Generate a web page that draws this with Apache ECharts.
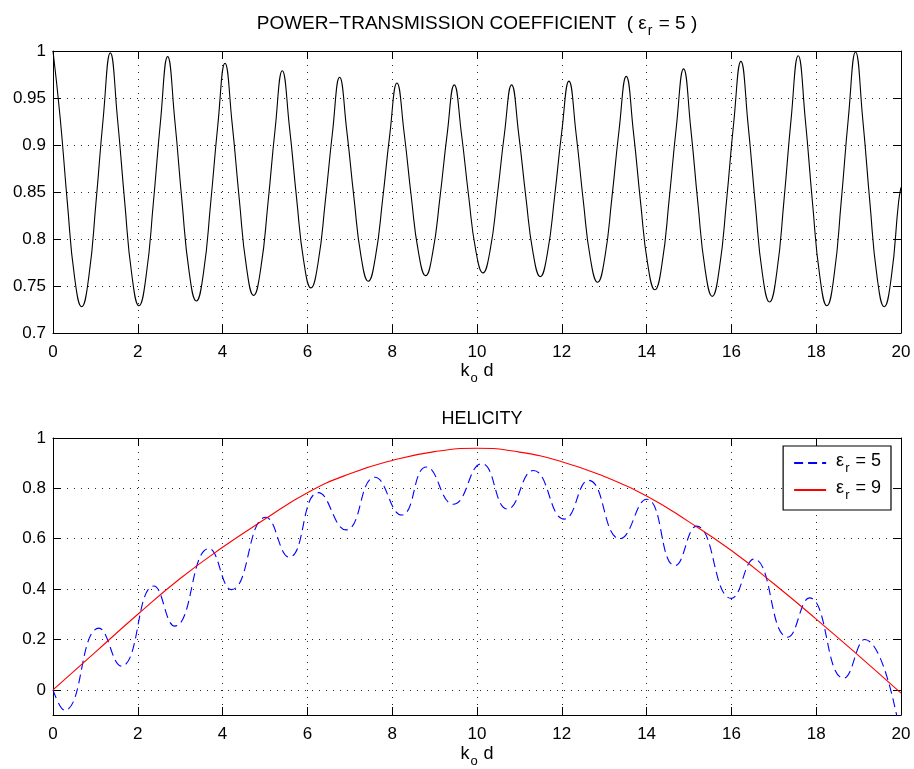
<!DOCTYPE html>
<html>
<head>
<meta charset="utf-8">
<script src="https://cdn.jsdelivr.net/npm/echarts@6/dist/echarts.min.js"></script>
<style>
html,body{margin:0;padding:0;background:#fff;}
#chart{width:914px;height:769px;}
</style>
</head>
<body>
<div id="chart"></div>
<script>
// ---- Top plot: power-transmission coefficient (eps_r = 5) ----
const transX = [
  0, 0.169, 0.338, 0.507, 0.676, 0.845, 1.014, 1.183,
  1.352, 1.521, 1.690, 1.859, 2.028, 2.197, 2.366, 2.535,
  2.704, 2.873, 3.042, 3.211, 3.380, 3.549, 3.718, 3.887,
  4.056, 4.225, 4.394, 4.563, 4.732, 4.901, 5.070, 5.239,
  5.408, 5.577, 5.746, 5.915, 6.084, 6.253, 6.422, 6.591,
  6.760, 6.929, 7.098, 7.267, 7.436, 7.605, 7.774, 7.943,
  8.112, 8.281, 8.450, 8.619, 8.788, 8.957, 9.126, 9.295,
  9.464, 9.633, 9.802, 9.971, 10.140, 10.309, 10.478, 10.647,
  10.816, 10.985, 11.154, 11.323, 11.492, 11.661, 11.830, 11.999,
  12.168, 12.337, 12.506, 12.675, 12.844, 13.013, 13.182, 13.351,
  13.520, 13.689, 13.858, 14.027, 14.196, 14.365, 14.534, 14.703,
  14.872, 15.041, 15.210, 15.379, 15.548, 15.717, 15.886, 16.055,
  16.224, 16.393, 16.562, 16.731, 16.900, 17.069, 17.238, 17.407,
  17.576, 17.745, 17.914, 18.083, 18.252, 18.421, 18.590, 18.759,
  18.928, 19.097, 19.266, 19.435, 19.604, 19.773, 19.942, 20
];
const transY = [
  1.000, 0.929, 0.839, 0.760, 0.728, 0.760, 0.839, 0.928,
  0.998, 0.928, 0.840, 0.762, 0.729, 0.761, 0.838, 0.925,
  0.994, 0.926, 0.840, 0.765, 0.734, 0.764, 0.838, 0.921,
  0.987, 0.923, 0.842, 0.770, 0.740, 0.769, 0.838, 0.917,
  0.979, 0.919, 0.843, 0.776, 0.748, 0.775, 0.840, 0.913,
  0.972, 0.915, 0.844, 0.781, 0.755, 0.781, 0.842, 0.911,
  0.966, 0.913, 0.845, 0.786, 0.761, 0.786, 0.844, 0.911,
  0.964, 0.912, 0.846, 0.788, 0.764, 0.788, 0.846, 0.912,
  0.964, 0.911, 0.844, 0.785, 0.760, 0.785, 0.845, 0.914,
  0.968, 0.912, 0.841, 0.779, 0.754, 0.780, 0.844, 0.916,
  0.973, 0.914, 0.839, 0.773, 0.746, 0.774, 0.843, 0.920,
  0.981, 0.918, 0.838, 0.768, 0.739, 0.769, 0.841, 0.924,
  0.989, 0.922, 0.838, 0.763, 0.733, 0.764, 0.840, 0.927,
  0.995, 0.926, 0.838, 0.761, 0.729, 0.761, 0.840, 0.929,
  0.999, 0.928, 0.839, 0.760, 0.728, 0.760, 0.839, 0.855
];

// ---- Bottom plot: helicity ----
const heliX5 = [0, 0.275, 1.085, 1.61, 2.38, 2.87, 3.68, 4.21, 5.02, 5.57, 6.26, 6.91, 7.59, 8.22, 8.81, 9.44,
  10.11, 10.72, 11.33, 12.06, 12.63, 13.37, 14.0, 14.67, 15.18, 16.0, 16.53, 17.33, 17.84, 18.65, 19.14, 20];
const heliY5 = [0, -0.081, 0.245, 0.094, 0.412, 0.253, 0.561, 0.398, 0.685, 0.527, 0.783, 0.635, 0.844, 0.694, 0.885, 0.737,
  0.898, 0.718, 0.871, 0.678, 0.832, 0.600, 0.757, 0.493, 0.650, 0.363, 0.519, 0.209, 0.365, 0.046, 0.200, -0.19];
const heliX9 = [0, 1, 2, 3, 4, 5, 6, 7, 8, 9, 10, 11, 12, 13, 14, 15, 16, 17, 18, 19, 20];
const heliY9 = [0, 0.15, 0.30, 0.442, 0.566, 0.678, 0.783, 0.858, 0.911, 0.946, 0.959, 0.944, 0.906, 0.847, 0.77, 0.667, 0.553, 0.421, 0.281, 0.136, -0.013];

const xTicks = [0, 2, 4, 6, 8, 10, 12, 14, 16, 18, 20];
const yTicksTop = [0.7, 0.75, 0.8, 0.85, 0.9, 0.95, 1];
const yTicksBottom = [0, 0.2, 0.4, 0.6, 0.8, 1];

const topTitle = ['POWER\u2212TRANSMISSION COEFFICIENT  ( \u03b5', 'r', ' = 5 )'];
const bottomTitle = 'HELICITY';
const xName = ['k', 'o', ' d'];
const legendNames = { er5: ['\u03b5', 'r', ' = 5'], er9: ['\u03b5', 'r', ' = 9'] };

// ---- build ----
const FONT = '"Liberation Sans", Arial, Helvetica, sans-serif';
const zip = (xs, ys) => xs.map((x, i) => [x, ys[i]]);
const rich = (n, s) => ({
  g: { width: 5, lineHeight: n + 4 },
  n: { fontSize: n, fontFamily: FONT, fontWeight: 'normal', color: '#000', lineHeight: n + 4, verticalAlign: 'top' },
  s: { fontSize: s, fontFamily: FONT, fontWeight: 'normal', color: '#000', lineHeight: s, padding: [Math.round(n * 0.55), 1, 0, 1], verticalAlign: 'top' }
});
const sub = (arr) => '{n|' + arr[0] + '}{s|' + arr[1] + '}{n|' + arr[2] + '}';

const gridLine = { show: true, lineStyle: { color: '#000', width: 1, type: [1, 6], opacity: 0.85 } };
const axLine = { show: true, onZero: false, lineStyle: { color: '#000', width: 1 } };
const tick = { show: true, inside: true, length: 8, lineStyle: { color: '#000', width: 1 } };
const label = { color: '#000', fontSize: 17, fontFamily: FONT, margin: 11 };

function xAxes(gi) {
  return [
    {
      type: 'value', gridIndex: gi, min: 0, max: 20, interval: 2, position: 'bottom',
      axisLine: axLine, axisTick: tick, splitLine: gridLine,
      axisLabel: Object.assign({}, label, { customValues: xTicks }),
      name: sub(xName), nameLocation: 'middle', nameGap: gi === 0 ? 29 : 30,
      nameTextStyle: { rich: rich(18, 13) }
    },
    {
      type: 'value', gridIndex: gi, min: 0, max: 20, interval: 2, position: 'top',
      axisLine: axLine, axisTick: tick, splitLine: { show: false }, axisLabel: { show: false }
    }
  ];
}

const option = {
  animation: false,
  backgroundColor: '#fff',
  title: [
    {
      text: sub(topTitle), left: 472, top: 9, textAlign: 'center',
      textStyle: { fontWeight: 'normal', rich: rich(19, 14) }
    },
    {
      text: bottomTitle, left: 477, top: 405, textAlign: 'center',
      textStyle: { fontSize: 18, fontWeight: 'normal', fontFamily: FONT, color: '#000' }
    }
  ],
  grid: [
    { left: 53, right: 13, top: 51, height: 282 },
    { left: 53, right: 13, top: 438, height: 281 }
  ],
  xAxis: [...xAxes(0), ...xAxes(1)],
  yAxis: [
    {
      type: 'value', gridIndex: 0, min: 0.7, max: 1, interval: 0.05, position: 'left',
      axisLine: axLine, axisTick: tick, splitLine: gridLine,
      axisLabel: Object.assign({}, label, { margin: 7, customValues: yTicksTop })
    },
    {
      type: 'value', gridIndex: 0, min: 0.7, max: 1, interval: 0.05, position: 'right',
      axisLine: axLine, axisTick: tick, splitLine: { show: false }, axisLabel: { show: false }
    },
    {
      type: 'value', gridIndex: 1, min: -0.1, max: 1, position: 'left',
      axisLine: axLine,
      axisTick: Object.assign({}, tick, { customValues: yTicksBottom }),
      splitLine: gridLine,
      axisLabel: Object.assign({}, label, { margin: 7, customValues: yTicksBottom })
    },
    {
      type: 'value', gridIndex: 1, min: -0.1, max: 1, position: 'right',
      axisLine: axLine,
      axisTick: Object.assign({}, tick, { customValues: yTicksBottom }),
      splitLine: { show: false }, axisLabel: { show: false, customValues: yTicksBottom }
    }
  ],
  legend: {
    data: ['er5', 'er9'],
    orient: 'vertical',
    right: 23, top: 446,
    itemWidth: 32, itemHeight: 12, itemGap: 4,
    padding: [6, 10, 8, 10],
    backgroundColor: '#fff',
    borderColor: '#000', borderWidth: 1.2, borderRadius: 0,
    itemStyle: { opacity: 0 },
    formatter: (name) => '{g|}' + sub(legendNames[name]),
    textStyle: { rich: rich(18, 13) }
  },
  series: [
    {
      type: 'line', name: 'trans', xAxisIndex: 0, yAxisIndex: 0,
      data: zip(transX, transY), smooth: 0.5, showSymbol: false, symbol: 'none',
      lineStyle: { color: '#000', width: 1.1 }, clip: true
    },
    {
      type: 'line', name: 'er5', xAxisIndex: 2, yAxisIndex: 2,
      data: zip(heliX5, heliY5), smooth: 0.5, showSymbol: false, symbol: 'none',
      itemStyle: { color: '#0000ff' },
      lineStyle: { color: '#0000ff', width: 1.1, type: [9, 5] }, clip: true
    },
    {
      type: 'line', name: 'er9', xAxisIndex: 2, yAxisIndex: 2,
      data: zip(heliX9, heliY9), smooth: 0.5, showSymbol: false, symbol: 'none',
      itemStyle: { color: '#ff0000' },
      lineStyle: { color: '#ff0000', width: 1.1 }, clip: true
    }
  ]
};

const chart = echarts.init(document.getElementById('chart'), null, { renderer: 'canvas' });
chart.setOption(option);
</script>
</body>
</html>
